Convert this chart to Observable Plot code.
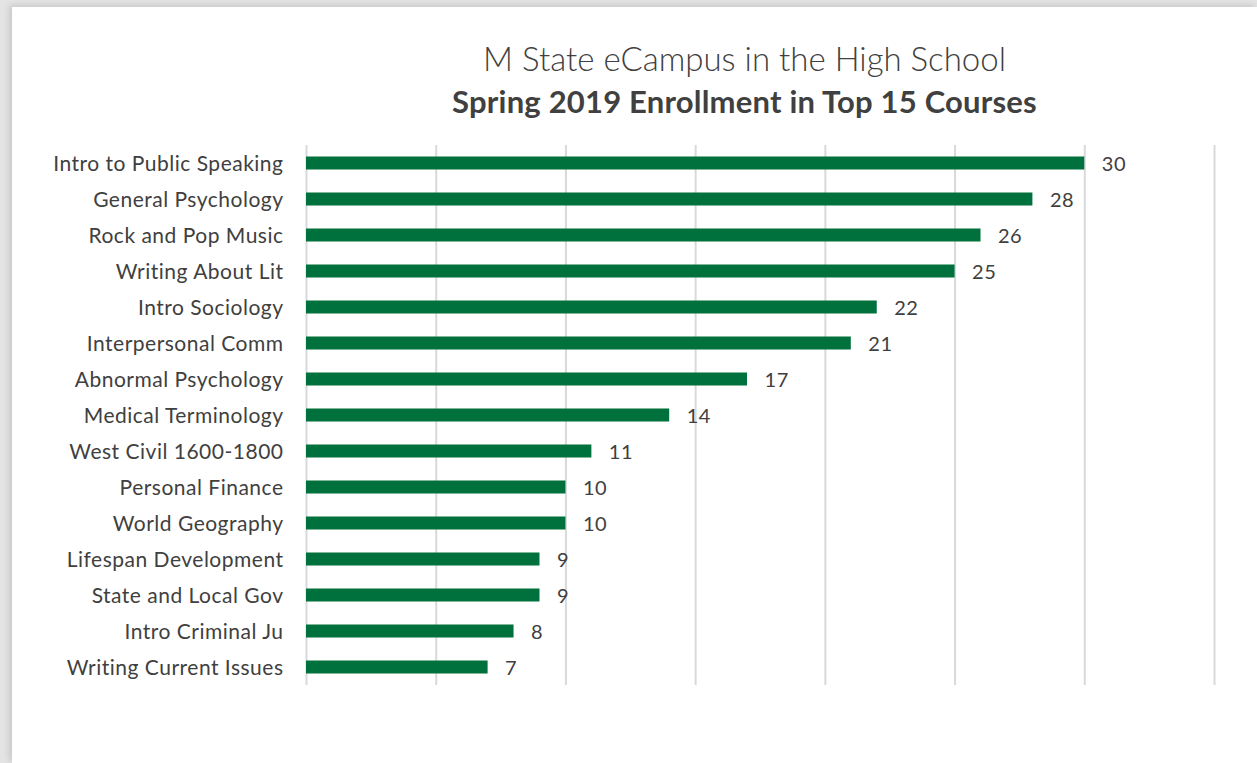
<!DOCTYPE html>
<html>
<head>
<meta charset="utf-8">
<script src="https://cdn.jsdelivr.net/npm/d3@7"></script>
<script src="https://cdn.jsdelivr.net/npm/@observablehq/plot@0.6"></script>
<style>
  html, body { margin: 0; padding: 0; background: #e4e4e4; width: 1257px; height: 763px; overflow: hidden; }
  #panel { position: absolute; left: 12px; top: 7px; width: 1245px; height: 756px; background: #fff; box-shadow: -3px -2px 6px rgba(0,0,0,0.12); }
  .t { position: absolute; left: 116px; width: 1257px; text-align: center; color: #404040; font-family: Lato, "Open Sans", sans-serif; white-space: nowrap; }
  #t1 { top: 38px; font-size: 33px; font-weight: 300; }
  #t2 { top: 82px; font-size: 31px; font-weight: 700; letter-spacing: 0.2px; }
  #chart { position: absolute; left: 0; top: 130px; }
</style>
</head>
<body>
<div id="panel"></div>
<div class="t" id="t1">M State eCampus in the High School</div>
<div class="t" id="t2">Spring 2019 Enrollment in Top 15 Courses</div>
<div id="chart"></div>
<script>
const courses = [
  "Intro to Public Speaking", "General Psychology", "Rock and Pop Music", "Writing About Lit",
  "Intro Sociology", "Interpersonal Comm", "Abnormal Psychology", "Medical Terminology",
  "West Civil 1600-1800", "Personal Finance", "World Geography", "Lifespan Development",
  "State and Local Gov", "Intro Criminal Ju", "Writing Current Issues"
];
const enrollment = [30, 28, 26, 25, 22, 21, 17, 14, 11, 10, 10, 9, 9, 8, 7];
const gridTicks = [0, 5, 10, 15, 20, 25, 30, 35];

const data = courses.map((c, i) => ({course: c, value: enrollment[i]}));

const chart = Plot.plot({
  width: 1257,
  height: 600,
  marginLeft: 306,
  marginRight: 43,
  marginTop: 15,
  marginBottom: 45,
  style: {fontFamily: "Lato, 'Open Sans', sans-serif", fontSize: "21px", color: "#404040", background: "transparent", letterSpacing: "0.5px"},
  x: {domain: [0, 35], axis: null},
  y: {domain: courses, padding: 0, label: null},
  marks: [
    Plot.ruleX(gridTicks, {stroke: "#d9d9d9", strokeWidth: 2}),
    Plot.barX(data, {x: "value", y: "course", fill: "#00703c", insetTop: 11.5, insetBottom: 11.5}),
    Plot.text(data, {x: "value", y: "course", text: d => String(d.value), textAnchor: "start", dx: 17, dy: 1, fill: "#404040", fontSize: 20}),
    Plot.axisY({tickSize: 0, tickPadding: 23, dy: 1, fontSize: 21, label: null, color: "#404040"})
  ]
});
document.getElementById("chart").appendChild(chart);
</script>
</body>
</html>
